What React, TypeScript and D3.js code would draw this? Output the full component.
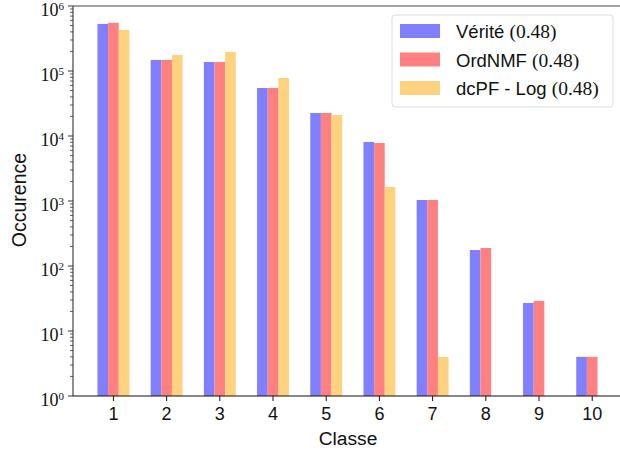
import React from "react";
import * as d3 from "d3";

const classes = [1, 2, 3, 4, 5, 6, 7, 8, 9, 10];
const verite = [530000, 148000, 137500, 54800, 22600, 8100, 1036, 176, 27, 4];
const ordnmf = [550000, 148000, 137500, 54800, 22600, 7800, 1036, 189, 29, 4];
const dcpf = [427000, 176000, 196000, 78000, 21000, 1640, 4, 0, 0, 0];
const seriesNames = ["Vérité", "OrdNMF", "dcPF - Log"];
const seriesScores = ["(0.48)", "(0.48)", "(0.48)"];
const colors = ["#8080ff", "#ff8080", "#ffd280"];
const yExponents = [0, 1, 2, 3, 4, 5, 6];

export default function App() {
  const W = 620, H = 454;
  const left = 73, top = 6, bottom = 396;
  const x = d3.scaleLinear().domain([0.24, 10.56]).range([left, 622]);
  const y = d3.scaleLog().domain([1, 1e6]).range([bottom, top]);
  const unit = x(1) - x(0);
  const bw = 0.2 * unit;
  const series = [verite, ordnmf, dcpf];
  const offsets = [-0.2, 0, 0.2];
  const sans = "'Liberation Sans', Arial, sans-serif";
  const serif = "'Liberation Serif', 'DejaVu Serif', serif";

  const minor: number[] = [];
  for (let e = 0; e < 6; e++) for (let k = 2; k <= 9; k++) minor.push(k * Math.pow(10, e));

  return (
    <svg width={W} height={H} style={{ position: "fixed", left: 0, top: 0, background: "#fff" }}>
      <rect x={0} y={0} width={W} height={H} fill="#fff" />
      {series.map((s, si) =>
        s.map((v, i) =>
          v > 0 ? (
            <rect
              key={`${si}-${i}`}
              x={x(classes[i] + offsets[si]) - bw / 2}
              y={y(v)}
              width={bw}
              height={bottom - y(v)}
              fill={colors[si]}
            />
          ) : null
        )
      )}
      {/* spines */}
      <line x1={left} x2={W} y1={top} y2={top} stroke="#444" strokeWidth={1.2} />
      <line x1={left} x2={left} y1={top} y2={bottom} stroke="#444" strokeWidth={1.2} />
      <line x1={left} x2={W} y1={bottom} y2={bottom} stroke="#111" strokeWidth={1.2} />
      {/* y ticks */}
      {minor.map((m) => (
        <line key={m} x1={left - 3} x2={left} y1={y(m)} y2={y(m)} stroke="#333" strokeWidth={0.8} />
      ))}
      {yExponents.map((e) => (
        <g key={e}>
          <line x1={left - 5} x2={left} y1={y(Math.pow(10, e))} y2={y(Math.pow(10, e))} stroke="#333" strokeWidth={1} />
          <text
            x={left - 9}
            y={y(Math.pow(10, e)) + 9.5}
            textAnchor="end"
            fontFamily={serif}
            fontSize={18}
            fill="#111"
          >
            10<tspan dy={-5.5} fontSize={11}>{e}</tspan>
          </text>
        </g>
      ))}
      {/* x ticks */}
      {classes.map((c) => (
        <g key={c}>
          <line x1={x(c)} x2={x(c)} y1={bottom} y2={bottom + 5} stroke="#111" strokeWidth={1} />
          <text x={x(c)} y={420} textAnchor="middle" fontFamily={sans} fontSize={18} fill="#111">
            {c}
          </text>
        </g>
      ))}
      <text x={348} y={445} textAnchor="middle" fontFamily={sans} fontSize={19.2} fill="#111">
        Classe
      </text>
      <text
        transform={`translate(25.5, 200) rotate(-90)`}
        textAnchor="middle"
        fontFamily={sans}
        fontSize={19.5}
        fill="#111"
      >
        Occurence
      </text>
      {/* legend */}
      <rect x={392} y={15} width={221} height={92} rx={3} fill="#fff" fillOpacity={0.85} stroke="#ddd" strokeWidth={1} />
      {seriesNames.map((n, i) => (
        <g key={n}>
          <rect x={400} y={24 + i * 28.5} width={40} height={14} fill={colors[i]} />
          <text x={456} y={38 + i * 28.5} fontFamily={sans} fontSize={18.5} fill="#111">
            {n}{" "}
            <tspan fontFamily={serif} fontSize={19.5}>
              {seriesScores[i]}
            </tspan>
          </text>
        </g>
      ))}
    </svg>
  );
}
